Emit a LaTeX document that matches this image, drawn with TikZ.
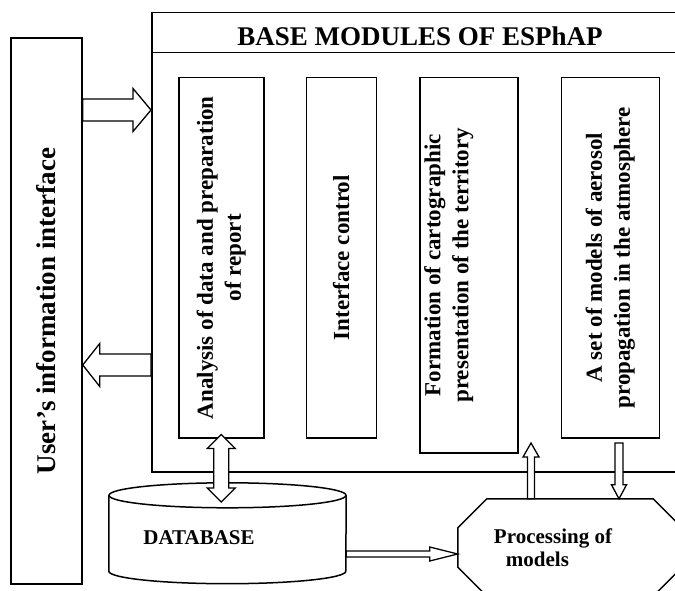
\documentclass[tikz,border=0pt]{standalone}
\usepackage{fontspec}
\setmainfont{Liberation Serif}
\usetikzlibrary{calc, positioning}

% hollow block arrow: from, to, shaft half width, head half width, head length
\newcommand{\hollowarrow}[5]{%
  \draw[blockarrow] let \p1=($(#2)-(#1)$), \n1={atan2(\y1,\x1)} in
    ($(#1)+(\n1+90:#3)$) -- ($(#2)+(\n1+180:#5)+(\n1+90:#3)$)
    -- ($(#2)+(\n1+180:#5)+(\n1+90:#4)$) -- (#2)
    -- ($(#2)+(\n1+180:#5)+(\n1-90:#4)$) -- ($(#2)+(\n1+180:#5)+(\n1-90:#3)$)
    -- ($(#1)+(\n1-90:#3)$) -- cycle;}
% same, with a head at both ends
\newcommand{\hollowdarrow}[5]{%
  \draw[blockarrow] let \p1=($(#2)-(#1)$), \n1={atan2(\y1,\x1)} in
    ($(#1)+(\n1:#5)+(\n1+90:#3)$) -- ($(#2)+(\n1+180:#5)+(\n1+90:#3)$)
    -- ($(#2)+(\n1+180:#5)+(\n1+90:#4)$) -- (#2)
    -- ($(#2)+(\n1+180:#5)+(\n1-90:#4)$) -- ($(#2)+(\n1+180:#5)+(\n1-90:#3)$)
    -- ($(#1)+(\n1:#5)+(\n1-90:#3)$) -- ($(#1)+(\n1:#5)+(\n1-90:#4)$) -- (#1)
    -- ($(#1)+(\n1:#5)+(\n1+90:#4)$) -- cycle;}

\begin{document}
\begin{tikzpicture}[x=1pt, y=-1pt,
        box/.style={draw, rectangle, line width=1.5pt, inner sep=0pt},
        module/.style={box, minimum height=360pt, anchor=north west},
        modtext/.style={rotate=90, align=center, font=\bfseries\fontsize{23}{28}\selectfont},
        bigtext/.style={font=\bfseries\fontsize{27}{32}\selectfont},
        smalltext/.style={font=\bfseries\fontsize{21}{23}\selectfont},
        blockarrow/.style={draw, fill=white, line width=1.3pt, line join=miter}
    ]
        \useasboundingbox (0,0) rectangle (675,591);
        \clip (0,0) rectangle (675,591);

        % User's interface
        \node[box, minimum width=71pt, minimum height=546pt] (user) at (46.5,311) {};
        \node[modtext, bigtext] (usertext) at (user.center) {User’s information interface};

        % Base modules
        \node[box, minimum width=539pt, minimum height=459pt, anchor=north west] (base) at (151,12) {};
        \node[box, minimum width=539pt, minimum height=40pt, anchor=north west] (head) at (base.north west) {};
        \node[bigtext] (headtext) at (420,36) {BASE MODULES OF ESPhAP};

        \node[module, minimum width=85pt] (analysis) at (178,77) {};
        \node[module, minimum width=70pt, right=41pt of analysis.north east, anchor=north west] (control) {};
        \node[module, minimum width=98pt, minimum height=375pt, right=42pt of control.north east, anchor=north west] (carto) {};
        \node[module, minimum width=98pt, right=42pt of carto.north east, anchor=north west] (aerosol) {};

        \node[modtext] (analysistext) at (analysis.center) {Analysis of data and preparation\\of report};
        \node[modtext] (controltext) at (control.center) {Interface control};
        \node[modtext, yshift=20pt] (cartotext) at (carto.center) {Formation of cartographic\\presentation of the territory};
        \node[modtext] (aerosoltext) at (aerosol.center) {A set of models of aerosol\\propagation in the atmosphere};

        % Database
        \node[minimum width=237pt, minimum height=75.5pt, inner sep=0pt] (db) at (227.5,533.25) {};
        \draw[line width=1.5pt] (db.north west) -- (db.south west)
            arc[start angle=180, end angle=360, x radius=118.5pt, y radius=12.5pt] -- (db.north east);
        \draw[line width=1.5pt] (db.north) ellipse [x radius=118.5pt, y radius=12.5pt];
        \node[smalltext] (dbtext) at (199,538) {DATABASE};

        % Processing
        \node[minimum width=224pt, minimum height=97pt, inner sep=0pt] (proc) at (570,547.5) {};
        \draw[line width=1.5pt] ([xshift=29pt]proc.north west) -- ([xshift=-29pt]proc.north east)
            -- ([yshift=-29pt]proc.north east) -- ([yshift=29pt]proc.south east)
            -- ([xshift=-29pt]proc.south east) -- ([xshift=29pt]proc.south west)
            -- ([yshift=29pt]proc.south west) -- ([yshift=-29pt]proc.north west) -- cycle;
        \node[smalltext, align=left] (proctext) at (553,548) {Processing of\\\hspace*{12pt}models};

        % Arrows
        \coordinate (inS) at (user.east |- 0,110);
        \coordinate (inE) at (base.west |- 0,110);
        \coordinate (outS) at (base.west |- 0,365);
        \coordinate (outE) at (user.east |- 0,365);
        \coordinate (dbUp) at ([yshift=4pt]analysis.south);
        \coordinate (dbDown) at (analysis.south |- 0,502);
        \coordinate (dbS) at (db.east |- 0,554);
        \coordinate (procW) at (proc.west |- 0,554);
        \coordinate (procUp) at (proc.north -| 531,0);
        \coordinate (upEnd) at (531,443);
        \coordinate (downS) at (619,443);
        \coordinate (procDown) at (proc.north -| 619,0);

        \hollowarrow{inS}{inE}{11pt}{21.5pt}{18pt}
        \hollowarrow{outS}{outE}{11pt}{21.5pt}{17pt}
        \hollowdarrow{dbUp}{dbDown}{7.5pt}{14pt}{14pt}
        \hollowarrow{dbS}{procW}{3pt}{7pt}{28pt}
        \hollowarrow{procUp}{upEnd}{3.5pt}{8pt}{14pt}
        \hollowarrow{downS}{procDown}{4pt}{7.5pt}{14pt}
    \end{tikzpicture}
\end{document}
